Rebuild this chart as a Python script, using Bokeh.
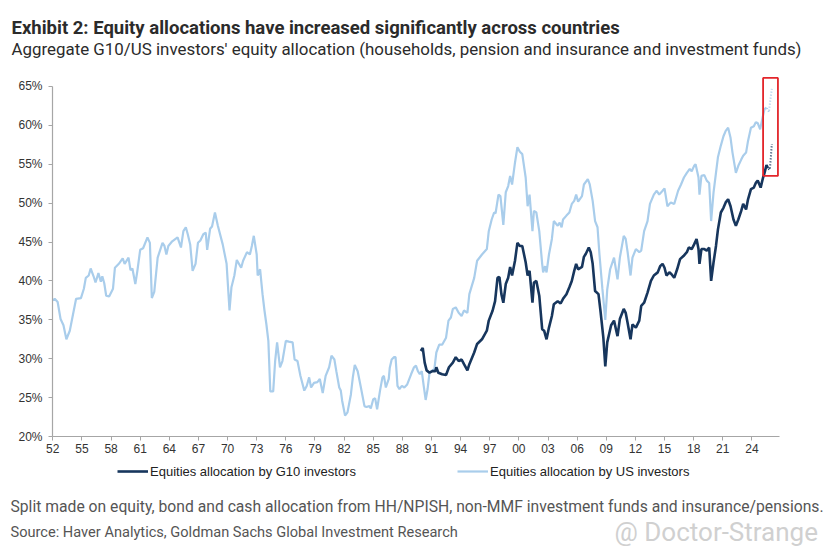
from bokeh.plotting import figure
from bokeh.models import Range1d, Label, Legend, LegendItem, FixedTicker, BoxAnnotation
from bokeh.embed import file_html
from bokeh.resources import INLINE

# ---------------- data ----------------
us_years = [1952.0, 1952.2, 1952.5, 1952.8, 1953.1, 1953.4, 1953.75, 1954.4, 1954.9, 1955.2,
            1955.4, 1955.7, 1955.9, 1956.2, 1956.4, 1956.7, 1956.95, 1957.1, 1957.3, 1957.5,
            1957.8, 1958.2, 1958.4, 1958.8, 1959.2, 1959.4, 1959.8, 1960.0, 1960.2, 1960.5,
            1960.7, 1961.0, 1961.3, 1961.75, 1962.0, 1962.2, 1962.45, 1962.8, 1963.3, 1963.5,
            1963.7, 1963.9, 1964.3, 1964.85, 1965.2, 1965.45, 1965.7, 1965.9, 1966.15, 1966.4,
            1966.7, 1966.95, 1967.2, 1967.5, 1967.75, 1967.9, 1968.2, 1968.4, 1968.7, 1969.0,
            1969.5, 1969.9, 1970.2, 1970.4, 1970.7, 1970.95, 1971.4, 1971.6, 1972.0, 1972.3,
            1972.5, 1972.7, 1973.0, 1973.1, 1973.35, 1973.6, 1973.8, 1974.0, 1974.2, 1974.4,
            1974.7, 1974.9, 1975.1, 1975.4, 1975.65, 1976.0, 1976.3, 1976.7, 1976.9, 1977.2,
            1977.5, 1977.9, 1978.15, 1978.4, 1978.6, 1978.9, 1979.25, 1979.5, 1979.8, 1980.1,
            1980.46, 1980.7, 1981.0, 1981.2, 1981.5, 1981.66, 1981.8, 1982.1, 1982.35, 1982.7,
            1982.9, 1983.1, 1983.4, 1983.7, 1984.1, 1984.3, 1984.6, 1984.75, 1985.0, 1985.2,
            1985.4, 1985.7, 1985.95, 1986.1, 1986.3, 1986.6, 1986.7, 1986.9, 1987.15, 1987.3,
            1987.5, 1987.7, 1987.95, 1988.2, 1988.5, 1988.9, 1989.2, 1989.4, 1989.6, 1989.8,
            1990.0, 1990.2, 1990.4, 1990.6, 1990.8, 1991.3, 1991.5, 1991.8, 1992.1, 1992.5,
            1992.75, 1993.0, 1993.2, 1993.5, 1993.8, 1994.1, 1994.35, 1994.7, 1994.9, 1995.4,
            1995.7, 1996.2, 1996.7, 1996.9, 1997.2, 1997.45, 1997.6, 1997.9, 1998.1, 1998.4,
            1998.65, 1998.9, 1999.1, 1999.3, 1999.6, 1999.85, 2000.1, 2000.35, 2000.7, 2000.9,
            2001.1, 2001.4, 2001.55, 2001.8, 2002.1, 2002.4, 2002.5, 2002.7, 2002.85, 2003.1,
            2003.4, 2003.6, 2004.0, 2004.2, 2004.4, 2004.55, 2004.9, 2005.2, 2005.45, 2005.7,
            2005.9, 2006.1, 2006.5, 2006.7, 2007.1, 2007.3, 2007.6, 2007.85, 2008.1, 2008.3,
            2008.6, 2008.9, 2009.1, 2009.4, 2009.8, 2010.16, 2010.4, 2010.8, 2011.0, 2011.2,
            2011.5, 2011.7, 2012.05, 2012.4, 2012.6, 2012.9, 2013.25, 2013.5, 2013.9, 2014.2,
            2014.45, 2014.8, 2015.0, 2015.3, 2015.65, 2016.0, 2016.4, 2016.7, 2017.0, 2017.3,
            2017.6, 2017.8, 2018.05, 2018.2, 2018.5, 2018.6, 2018.8, 2019.1, 2019.35, 2019.6,
            2019.8, 2020.05, 2020.3, 2020.5, 2020.8, 2021.07, 2021.3, 2021.55, 2021.8, 2022.0,
            2022.35, 2022.6, 2022.9, 2023.1, 2023.4, 2023.6, 2023.9, 2024.2, 2024.4, 2024.6,
            2024.85, 2025.1, 2025.3, 2025.5]
us_values = [37.5, 37.7, 37.3, 35.1, 34.3, 32.5, 33.6, 37.7, 37.8, 39.0,
             40.4, 40.7, 41.6, 40.6, 39.8, 41.0, 39.9, 40.6, 39.7, 38.1,
             38.0, 39.0, 41.7, 42.2, 42.9, 42.2, 43.0, 41.4, 41.6, 39.6,
             41.2, 44.0, 44.2, 45.6, 44.9, 37.8, 38.6, 43.0, 44.9, 44.5,
             43.4, 44.5, 45.1, 45.6, 44.3, 46.4, 46.9, 46.0, 44.7, 41.3,
             42.2, 44.9, 45.2, 46.0, 46.2, 44.0, 46.7, 47.0, 48.8, 47.1,
             44.7, 42.2, 36.2, 39.2, 40.7, 42.7, 41.7, 42.6, 43.7, 43.4,
             44.5, 45.8, 43.4, 40.7, 41.5, 38.3, 36.2, 34.4, 32.3, 25.8,
             25.8, 29.7, 32.1, 28.9, 29.7, 32.3, 32.2, 32.1, 29.9, 29.7,
             27.8, 25.9, 26.5, 27.6, 26.3, 26.9, 27.0, 27.4, 25.6, 27.8,
             28.9, 30.4, 29.9, 28.4, 26.3, 25.9, 24.6, 22.7, 23.1, 25.4,
             27.6, 29.2, 28.4, 26.5, 23.9, 23.8, 23.9, 23.6, 24.8, 24.9,
             23.5, 25.9, 27.6, 27.8, 26.3, 27.4, 28.8, 29.9, 30.2, 30.2,
             26.5, 26.1, 26.5, 26.3, 26.7, 28.0, 28.9, 29.1, 28.4, 28.0,
             28.4, 26.5, 24.7, 26.1, 28.2, 28.7, 30.8, 31.8, 31.8, 32.7,
             34.9, 35.3, 36.4, 36.6, 35.9, 35.5, 36.2, 35.9, 38.3, 40.4,
             42.6, 43.4, 44.1, 46.4, 47.9, 48.8, 48.7, 51.1, 50.9, 47.2,
             51.4, 52.2, 53.5, 52.4, 55.2, 57.2, 56.6, 56.3, 53.3, 49.6,
             51.1, 46.4, 49.0, 48.8, 46.4, 42.2, 41.1, 41.9, 41.1, 43.4,
             45.4, 47.7, 47.1, 47.5, 46.9, 47.9, 48.4, 48.8, 49.9, 50.3,
             51.1, 50.2, 50.9, 52.4, 53.1, 52.4, 50.3, 47.7, 46.9, 43.4,
             39.0, 35.0, 38.9, 41.5, 43.0, 40.2, 43.0, 45.8, 45.4, 43.7,
             40.7, 43.0, 44.1, 43.7, 43.9, 46.4, 47.7, 49.9, 51.1, 51.6,
             51.1, 51.6, 51.9, 49.6, 50.1, 49.9, 51.6, 52.4, 53.3, 53.9,
             54.4, 54.1, 54.8, 55.0, 53.3, 51.1, 53.5, 53.6, 52.9, 52.6,
             47.7, 51.4, 53.9, 55.9, 57.4, 58.6, 59.3, 59.7, 58.4, 56.5,
             53.9, 54.8, 55.6, 56.1, 56.5, 58.0, 59.7, 59.9, 60.4, 60.3,
             59.5, 61.0, 62.1, 62.3]

g10_years = [1989.9, 1990.1, 1990.3, 1990.5, 1990.8, 1991.1, 1991.4, 1991.5, 1991.7, 1992.1,
             1992.5, 1992.8, 1993.2, 1993.5, 1993.8, 1994.1, 1994.35, 1994.7, 1994.9, 1995.4,
             1995.7, 1996.2, 1996.7, 1996.9, 1997.3, 1997.55, 1997.8, 1998.0, 1998.2, 1998.4,
             1998.65, 1998.9, 1999.1, 1999.3, 1999.6, 1999.85, 2000.1, 2000.35, 2000.7, 2000.9,
             2001.1, 2001.4, 2001.55, 2001.8, 2002.1, 2002.4, 2002.6, 2002.85, 2003.1, 2003.4,
             2003.6, 2004.0, 2004.3, 2004.55, 2004.9, 2005.2, 2005.45, 2005.7, 2005.9, 2006.1,
             2006.5, 2006.7, 2006.9, 2007.2, 2007.4, 2007.6, 2007.85, 2008.2, 2008.4, 2008.7,
             2008.9, 2009.1, 2009.5, 2009.8, 2010.16, 2010.4, 2010.8, 2011.0, 2011.2, 2011.5,
             2011.7, 2012.05, 2012.4, 2012.6, 2012.9, 2013.25, 2013.6, 2013.9, 2014.3, 2014.55,
             2014.8, 2015.0, 2015.2, 2015.5, 2015.7, 2016.0, 2016.3, 2016.6, 2016.95, 2017.3,
             2017.5, 2017.8, 2018.05, 2018.3, 2018.5, 2018.6, 2018.8, 2019.1, 2019.35, 2019.6,
             2019.8, 2020.05, 2020.3, 2020.5, 2020.8, 2021.07, 2021.3, 2021.55, 2021.8, 2022.1,
             2022.35, 2022.6, 2022.9, 2023.1, 2023.4, 2023.6, 2023.9, 2024.2, 2024.4, 2024.6,
             2024.9, 2025.15, 2025.3, 2025.5, 2025.65]
g10_values = [31.0, 31.4, 29.5, 28.5, 28.2, 28.4, 28.4, 28.9, 28.2, 28.0,
              27.9, 28.9, 29.5, 30.2, 29.7, 29.9, 29.3, 28.5, 29.3, 30.8,
              31.9, 32.5, 33.6, 34.9, 36.2, 37.4, 40.4, 40.5, 38.3, 37.2,
              39.6, 40.4, 41.8, 40.7, 42.6, 44.9, 44.5, 44.5, 42.4, 40.7,
              41.3, 37.2, 39.8, 40.0, 38.1, 33.8, 33.6, 32.5, 34.0, 35.5,
              37.0, 37.4, 37.1, 37.7, 38.3, 39.2, 40.0, 41.3, 42.2, 41.5,
              41.8, 43.1, 43.5, 44.3, 43.7, 42.2, 38.7, 38.3, 36.2, 32.7,
              29.0, 32.1, 34.3, 34.9, 32.9, 35.1, 36.4, 35.9, 34.6, 32.5,
              34.4, 34.0, 34.9, 36.8, 37.2, 38.5, 40.0, 40.7, 41.1, 41.9,
              42.2, 41.7, 40.7, 41.1, 40.9, 40.4, 41.5, 42.8, 43.2, 43.7,
              44.3, 44.1, 44.7, 45.4, 44.1, 42.2, 44.1, 44.1, 43.9, 44.3,
              40.0, 42.4, 44.5, 46.6, 48.8, 49.4, 50.1, 50.5, 49.6, 47.9,
              47.1, 47.9, 49.0, 49.9, 49.2, 50.5, 51.8, 52.0, 52.6, 52.9,
              52.0, 53.3, 53.9, 54.9, 54.5]

# dotted projections inside the highlighted box
us_proj_years = [2025.55, 2025.75, 2025.9, 2026.05]
us_proj_values = [62.2, 61.7, 63.3, 64.7]
g10_proj_years = [2025.7, 2025.85, 2025.95, 2026.05]
g10_proj_values = [54.4, 54.3, 55.9, 57.6]

# highlight box (data coordinates)
box_years = [2025.15, 2026.68]
box_values = [53.5, 66.1]

x_ticks = list(range(1952, 2025, 3))
x_tick_labels = ["52", "55", "58", "61", "64", "67", "70", "73", "76", "79", "82", "85", "88",
                 "91", "94", "97", "00", "03", "06", "09", "12", "15", "18", "21", "24"]
y_ticks = [20, 25, 30, 35, 40, 45, 50, 55, 60, 65]
y_tick_labels = ["20%", "25%", "30%", "35%", "40%", "45%", "50%", "55%", "60%", "65%"]
x_axis_span = (1951.97, 2026.84)
y_axis_span = (20, 65)

DARK = "#17365d"
LIGHT = "#a9cdeb"
AXIS = "#a6a6a6"
TXT = "#333333"

W, H = 829, 547
PX_PER_YEAR = 9.71
PX_PER_PCT = 7.778
AX_LEFT_PX = 52      # screen x of the y axis
AX_BOTTOM_PX = 436   # screen y (from top) of the x axis

x0 = x_axis_span[0] - AX_LEFT_PX / PX_PER_YEAR
x1 = x_axis_span[0] + (W - AX_LEFT_PX) / PX_PER_YEAR
y0 = y_axis_span[0] - (H - AX_BOTTOM_PX) / PX_PER_PCT
y1 = y_axis_span[0] + AX_BOTTOM_PX / PX_PER_PCT

p = figure(width=W, height=H, output_backend="svg", toolbar_location=None, title=None,
           x_range=Range1d(x0, x1), y_range=Range1d(y0, y1),
           min_border=0, min_border_left=0, min_border_right=0, min_border_top=0, min_border_bottom=0)
p.outline_line_color = None
p.xgrid.visible = False
p.ygrid.visible = False
p.background_fill_color = "white"
p.border_fill_color = "white"

for ax in (p.xaxis[0], p.yaxis[0]):
    ax.axis_line_color = AXIS
    ax.axis_line_width = 1.2
    ax.major_tick_line_color = AXIS
    ax.major_tick_in = 0
    ax.major_tick_out = 4
    ax.minor_tick_line_color = None
    ax.major_label_text_font = "Liberation Sans"
    ax.major_label_text_font_size = "12px"
    ax.major_label_text_color = TXT

p.xaxis.fixed_location = y_axis_span[0]
p.xaxis.bounds = x_axis_span
p.xaxis.ticker = FixedTicker(ticks=x_ticks)
p.xaxis.major_label_overrides = {t: l for t, l in zip(x_ticks, x_tick_labels)}
p.xaxis.major_label_standoff = 3
p.yaxis.fixed_location = x_axis_span[0]
p.yaxis.bounds = y_axis_span
p.yaxis.ticker = FixedTicker(ticks=y_ticks)
p.yaxis.major_label_overrides = {t: l for t, l in zip(y_ticks, y_tick_labels)}
p.yaxis.major_label_standoff = 6

r_us = p.line(us_years, us_values, line_color=LIGHT, line_width=2.2)
r_g10 = p.line(g10_years, g10_values, line_color=DARK, line_width=2.6)
p.line(us_proj_years, us_proj_values, line_color=LIGHT, line_width=2, line_dash="1 2")
p.line(g10_proj_years, g10_proj_values, line_color=DARK, line_width=2, line_dash="1 2")

p.add_layout(BoxAnnotation(left=box_years[0], right=box_years[1], bottom=box_values[0], top=box_values[1],
                           fill_alpha=0, line_color="#e3262b", line_alpha=1.0, line_width=1.8))

def make_legend(label, rend, loc):
    return Legend(items=[LegendItem(label=label, renderers=[rend])], location=loc,
                  orientation="horizontal", padding=0, margin=0, spacing=0,
                  border_line_alpha=0, background_fill_alpha=0,
                  glyph_width=31, glyph_height=20, label_height=20, label_standoff=2,
                  label_text_font="Liberation Sans", label_text_font_size="13px",
                  label_text_color="#222222")

p.add_layout(make_legend("Equities allocation by G10 investors", r_g10, (117, H - 481)), "center")
p.add_layout(make_legend("Equities allocation by US investors", r_us, (457, H - 481)), "center")

def add_text(txt, x, baseline_from_top, size, color, style="normal", font="Roboto"):
    p.add_layout(Label(x=x, y=H - baseline_from_top, x_units="screen", y_units="screen", text=txt,
                       text_font=font, text_font_size=size, text_color=color,
                       text_font_style=style, text_baseline="alphabetic", text_align="left"))

add_text("Exhibit 2: Equity allocations have increased significantly across countries",
         11, 27, "18.5px", "#2b2b2b", "bold")
add_text("Aggregate G10/US investors' equity allocation (households, pension and insurance and investment funds)",
         11, 48, "16.9px", "#2b2b2b")
add_text("Split made on equity, bond and cash allocation from HH/NPISH, non-MMF investment funds and insurance/pensions.",
         10, 506, "15.7px", "#555555")
add_text("Source: Haver Analytics, Goldman Sachs Global Investment Research",
         10, 531, "14.6px", "#555555")
add_text("@ Doctor-Strange", 614, 531, "26px", "#d0d0d0")

open("out.html", "w").write(file_html(p, INLINE))
